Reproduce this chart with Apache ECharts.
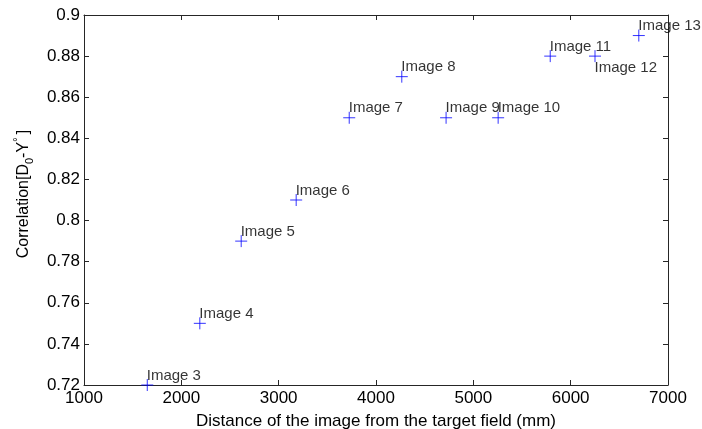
<!DOCTYPE html>
<html><head><meta charset="utf-8">
<script src="https://cdn.jsdelivr.net/npm/echarts@6/dist/echarts.min.js"></script>
<style>html,body{margin:0;padding:0;background:#fff}#c{width:702px;height:429px}</style>
</head><body><div id="c"></div>
<script>
var names = ['Image 3','Image 4','Image 5','Image 6','Image 7','Image 8','Image 9','Image 10','Image 11','Image 12','Image 13'];
var distances = [1650, 2190, 2615, 3180, 3725, 4265, 4720, 5255, 5790, 6250, 6700];
var correlations = [0.72, 0.75, 0.79, 0.81, 0.85, 0.87, 0.85, 0.85, 0.88, 0.88, 0.89];
var xTicks = [1000, 2000, 3000, 4000, 5000, 6000, 7000];
var yTicks = [0.72, 0.74, 0.76, 0.78, 0.8, 0.82, 0.84, 0.86, 0.88, 0.9];

var FONT = 'Liberation Sans, Arial, sans-serif';
var data = distances.map(function (d, i) {
  var below = names[i] === 'Image 12';
  return {
    value: [d, correlations[i]],
    name: names[i],
    label: below ? { position: [8, 20] } : {}
  };
});
var chart = echarts.init(document.getElementById('c'));
var axisLine = { show: true, lineStyle: { color: '#262626', width: 1 } };
var tick = { show: true, inside: true, length: 5, lineStyle: { color: '#262626' } };
chart.setOption({
  animation: false,
  grid: { left: 84, right: 34, top: 15, bottom: 44, containLabel: false, outerBoundsMode: 'none' },
  xAxis: [{
    type: 'value', min: xTicks[0], max: xTicks[xTicks.length - 1], interval: 1000, position: 'bottom',
    axisLine: axisLine, axisTick: tick, splitLine: { show: false },
    axisLabel: { color: '#000', fontSize: 17, fontFamily: FONT, margin: 5,
      formatter: function (v) { return String(v); } },
    name: 'Distance of the image from the target field (mm)', nameLocation: 'middle', nameGap: 28,
    nameTextStyle: { color: '#000', fontSize: 17, fontFamily: FONT }
  }, {
    type: 'value', min: xTicks[0], max: xTicks[xTicks.length - 1], interval: 1000, position: 'top',
    axisLine: axisLine, axisTick: tick, splitLine: { show: false }, axisLabel: { show: false }
  }],
  yAxis: [{
    type: 'value', min: yTicks[0], max: yTicks[yTicks.length - 1], interval: 0.02, position: 'left',
    axisLine: axisLine, axisTick: tick, splitLine: { show: false },
    axisLabel: { color: '#000', fontSize: 17, fontFamily: FONT, margin: 4,
      formatter: function (v) { return String(Math.round(v * 100) / 100); } },
    name: 'Correlation[D{sub|0}-Y{sup|°}]', nameLocation: 'middle', nameGap: 49,
    nameTextStyle: { color: '#000', fontSize: 16, fontFamily: FONT, padding: [0, 0, 0, 12],
      rich: {
        sub: { fontSize: 11, fontFamily: FONT, color: '#000', verticalAlign: 'bottom', lineHeight: 22, padding: [8, 0, 0, 0] },
        sup: { fontSize: 12, fontFamily: FONT, color: '#000', verticalAlign: 'top', lineHeight: 22, padding: [0, 3, 5, 0] }
      } }
  }, {
    type: 'value', min: yTicks[0], max: yTicks[yTicks.length - 1], interval: 0.02, position: 'right',
    axisLine: axisLine, axisTick: tick, splitLine: { show: false }, axisLabel: { show: false }
  }],
  series: [{
    type: 'scatter',
    data: data,
    symbol: 'path://M0,5 L10,5 M5,0 L5,10',
    symbolSize: 12,
    itemStyle: { color: 'none', borderColor: '#0000ff', borderWidth: 1 },
    label: {
      show: true, formatter: '{b}', position: [8, -1], align: 'left', verticalAlign: 'middle',
      color: '#000', fontSize: 15, fontFamily: FONT
    },
    labelLayout: { hideOverlap: false }
  }]
});
</script></body></html>
